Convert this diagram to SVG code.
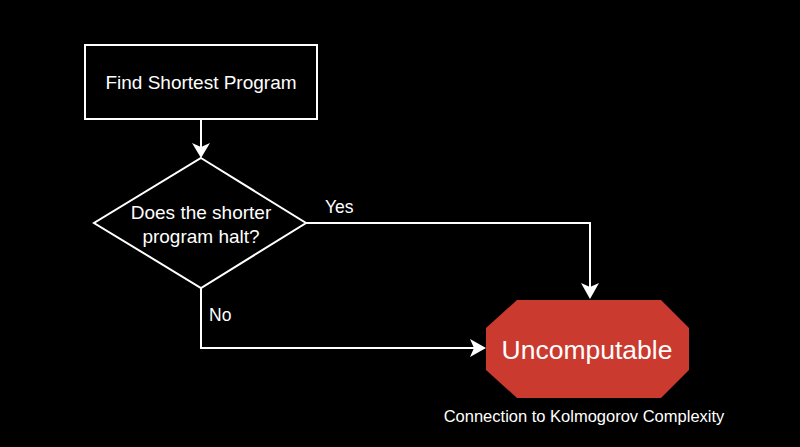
<svg xmlns="http://www.w3.org/2000/svg" width="800" height="447" viewBox="0 0 800 447">
<style>
.t{font-family:"Liberation Sans",Arial,sans-serif;fill:#fff}
.n{fill:#000;stroke:#fff;stroke-width:2}
.c{fill:none;stroke:#fff;stroke-width:2}
.h{fill:#fff}
</style>
<rect width="800" height="447" fill="#000"/>
<g id="connectors">
<path class="c" d="M201,119 V147"/>
<path class="h" d="M192,143 L201,158 L210,143 L201,147 Z"/>
<path class="c" d="M306,223 H590 V287"/>
<path class="h" d="M581,283 L590,299 L599,283 L590,287 Z"/>
<path class="c" d="M201,288 V348 H474"/>
<path class="h" d="M470,339 L486,348 L470,357 L474,348 Z"/>
<text class="t" x="325" y="213" font-size="17.5">Yes</text>
<text class="t" x="209" y="321" font-size="17.5">No</text>
</g>
<g id="find">
<rect class="n" x="85" y="45" width="232" height="74"/>
<text class="t" x="201" y="89" font-size="19" text-anchor="middle">Find Shortest Program</text>
</g>
<g id="halt">
<polygon class="n" points="201,158 306,223 201,288 94,223"/>
<text class="t" x="201" y="219" font-size="19" text-anchor="middle">Does the shorter</text>
<text class="t" x="201" y="243" font-size="19" text-anchor="middle">program halt?</text>
</g>
<g id="uncomputable">
<polygon points="517,300 661,300 689,328 689,370 661,398 517,398 486,370 486,328" fill="#cb3a2e"/>
<text class="t" x="587" y="359" font-size="26.5" text-anchor="middle">Uncomputable</text>
</g>
<text class="t" x="584" y="422" font-size="16.5" text-anchor="middle">Connection to Kolmogorov Complexity</text>
</svg>
